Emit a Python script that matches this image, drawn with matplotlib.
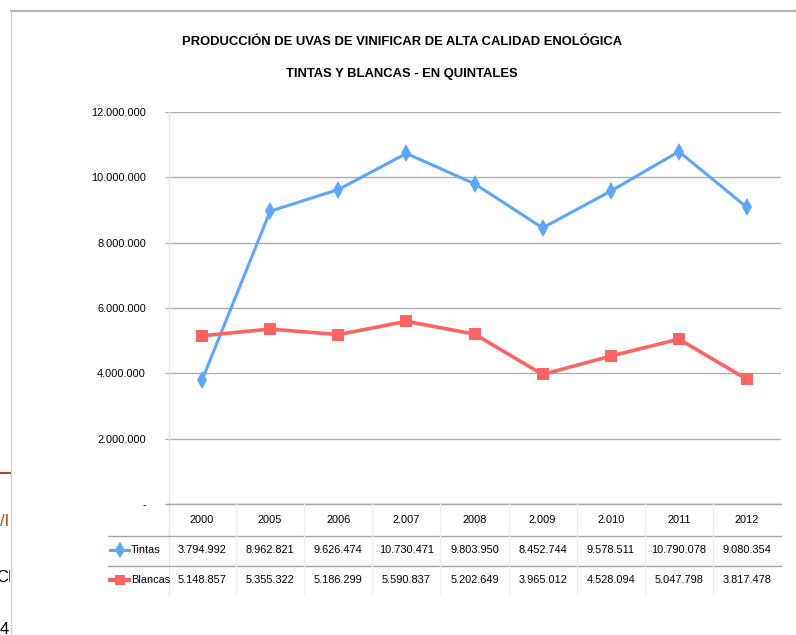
import numpy as np
import matplotlib
matplotlib.use("Agg")
import matplotlib.pyplot as plt
from matplotlib.lines import Line2D
from matplotlib.transforms import Bbox

years = ["2000", "2005", "2006", "2.007", "2008", "2.009", "2.010", "2011", "2012"]
tintas = [3794992, 8962821, 9626474, 10730471, 9803950, 8452744, 9578511, 10790078, 9080354]
blancas = [5148857, 5355322, 5186299, 5590837, 5202649, 3965012, 4528094, 5047798, 3817478]
yticks = [0, 2000000, 4000000, 6000000, 8000000, 10000000, 12000000]

W, H = 796, 635
blue = "#5DA6FA"
red = "#FF6464"
fam = ["Liberation Sans", "DejaVu Sans"]
fs = 7.9


def fx(x):
    return x / W


def fy(y):
    return 1 - y / H


def fmt(v):
    if v == 0:
        return "-"
    return f"{v:,}".replace(",", ".")


fig = plt.figure(figsize=(W / 100, H / 100), dpi=100)
fig.patch.set_facecolor("white")

# chart frame
fig.add_artist(Line2D([fx(11), 1], [fy(11), fy(11)], color="#B4B4B4", lw=1.6))
fig.add_artist(Line2D([fx(11), fx(11)], [fy(11), 0], color="#D0D0D0", lw=1))

# bits of the page behind the chart (cut by the frame)
fig.add_artist(Line2D([0, fx(10)], [fy(473), fy(473)], color="#A8491E", lw=1.5))
clip = Bbox([[0, 0], [10, H]])
for s, xx, yy, c in [("/I", 0, 522, "#A8491E"), ("CF", -4, 578, "black"), ("4", 0, 630, "black")]:
    t = fig.text(fx(xx), fy(yy), s, fontsize=12, color=c, va="center", ha="left", family=fam)
    t.set_clip_box(clip)
    t.set_clip_on(True)

fig.text(fx(402), fy(42), "PRODUCCIÓN DE UVAS DE VINIFICAR DE ALTA CALIDAD ENOLÓGICA",
         ha="center", va="center", fontsize=9.4, fontweight="bold", family=fam)
fig.text(fx(402), fy(74), "TINTAS Y BLANCAS - EN QUINTALES",
         ha="center", va="center", fontsize=9.4, fontweight="bold", family=fam)

ax = fig.add_axes([fx(168), fy(504), (781 - 168) / W, (504 - 112) / H])
x = np.arange(len(years))
ax.plot(x, tintas, color=blue, lw=2.2, marker="d", ms=9, mew=0, zorder=3)
ax.plot(x, blancas, color=red, lw=2.6, marker="s", ms=8.5, mew=0, zorder=3)

ax.set_xlim(-0.5, len(years) - 0.5)
ax.set_ylim(0, 12000000)
ax.set_yticks(yticks)
ax.set_yticklabels([fmt(v) for v in yticks], family=fam, fontsize=fs)
ax.yaxis.grid(True, color="#B0B0B0", lw=1)
ax.set_axisbelow(True)
ax.tick_params(axis="y", length=2.2, color="#B0B0B0", pad=13.6)
ax.set_xticks([])
for s in ["top", "right", "left", "bottom"]:
    ax.spines[s].set_visible(False)

# left border of the plot area running down through the table
fig.add_artist(Line2D([fx(169), fx(169)], [fy(112), fy(595)], color="#E6E6E6", lw=1))

# data table
fig.add_artist(Line2D([fx(166), fx(781)], [fy(504), fy(504)], color="#A6A6A6", lw=1))
for yy in [536, 566]:
    fig.add_artist(Line2D([fx(108), fx(781)], [fy(yy), fy(yy)], color="#A6A6A6", lw=1))
cw = (781 - 168) / len(years)
for i in range(1, len(years)):
    xb = 168 + i * cw
    fig.add_artist(Line2D([fx(xb), fx(xb)], [fy(504), fy(595)], color="#EFEFEF", lw=1))

for i, yr in enumerate(years):
    xc = 168 + (i + 0.5) * cw
    fig.text(fx(xc), fy(520), yr, ha="center", va="center", fontsize=fs, family=fam)
    fig.text(fx(xc), fy(550), fmt(tintas[i]), ha="center", va="center", fontsize=fs, family=fam)
    fig.text(fx(xc), fy(580), fmt(blancas[i]), ha="center", va="center", fontsize=fs, family=fam)

for yy, name, c, m, lw, ms in [(550, "Tintas", blue, "d", 2.2, 8), (580, "Blancas", red, "s", 3, 7.5)]:
    fig.add_artist(Line2D([fx(110), fx(129)], [fy(yy), fy(yy)], color=c, lw=lw))
    fig.add_artist(Line2D([fx(119.5)], [fy(yy)], color=c, marker=m, ms=ms, mew=0))
    fig.text(fx(131), fy(yy), name, ha="left", va="center", fontsize=fs, family=fam)

fig.savefig("out.png", dpi=100)
